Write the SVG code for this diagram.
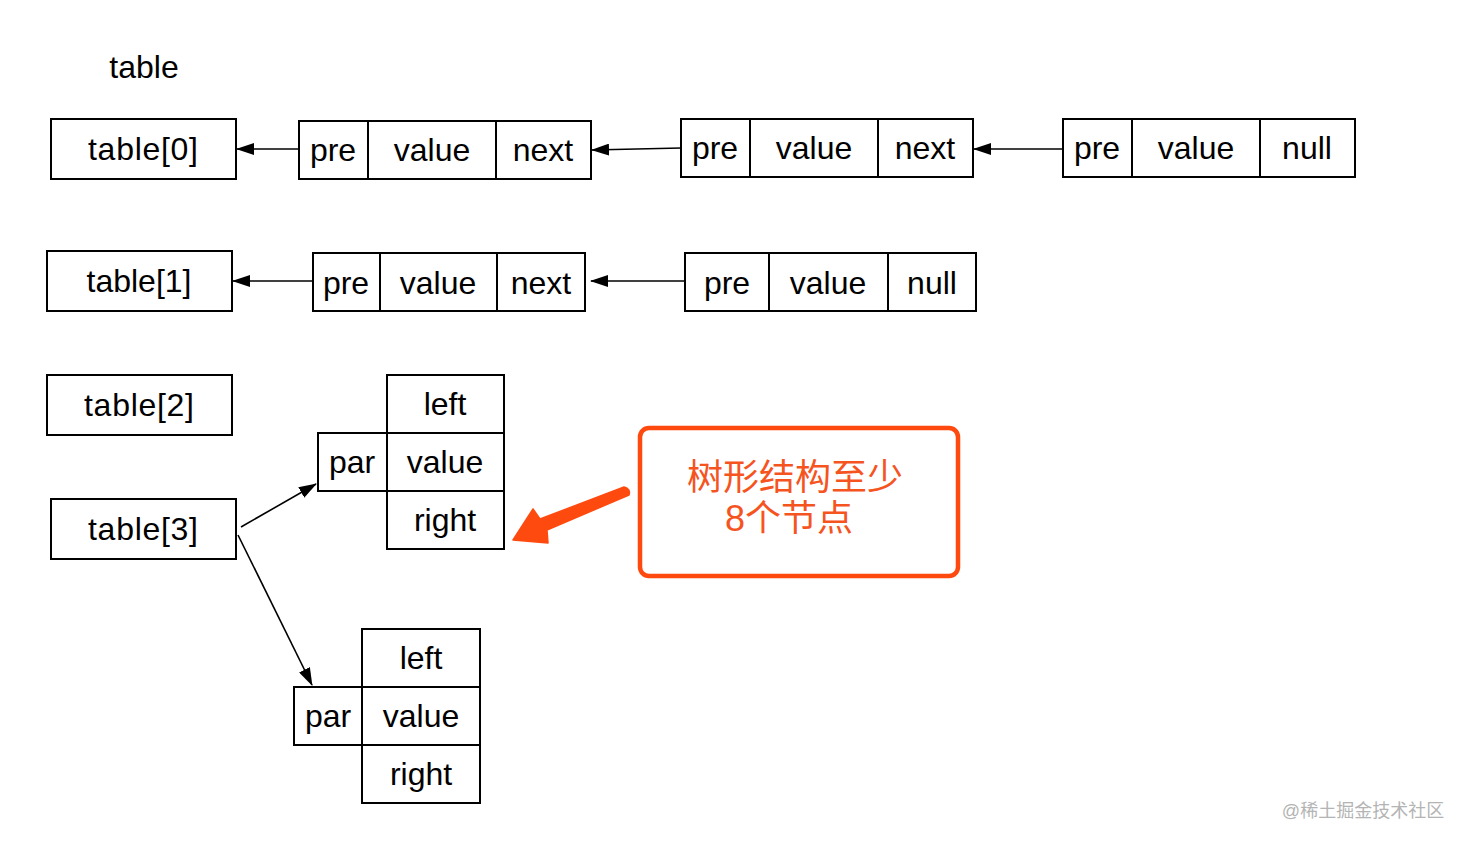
<svg xmlns="http://www.w3.org/2000/svg" width="1466" height="844" viewBox="0 0 1466 844">
<style>
.b{fill:#fff;stroke:#000;stroke-width:2}
.t{font-family:"Liberation Sans",Arial,sans-serif;font-size:32px;fill:#000;text-anchor:middle}
.c{stroke:#000;stroke-width:1.6;fill:none;marker-end:url(#ah)}
.cn{font-family:"Liberation Sans","Noto Sans CJK SC",sans-serif;font-size:36px;fill:#F5541F;text-anchor:middle}
</style>
<defs>
<marker id="ah" viewBox="0 0 18 12" refX="17" refY="6" markerWidth="18" markerHeight="12" markerUnits="userSpaceOnUse" orient="auto">
<path d="M0,0 L18,6 L0,12 z" fill="#000"/>
</marker>
</defs>
<rect width="1466" height="844" fill="#fff"/>
<text class="t" x="144" y="78">table</text>

<g id="table0"><rect class="b" x="51" y="119" width="185" height="60"/><text class="t" x="143" y="160" textLength="110">table[0]</text></g>
<g id="r0n1">
<rect class="b" x="299" y="121" width="69" height="58"/><text class="t" x="333" y="161">pre</text>
<rect class="b" x="368" y="121" width="128" height="58"/><text class="t" x="432" y="161">value</text>
<rect class="b" x="496" y="121" width="95" height="58"/><text class="t" x="543" y="161">next</text>
</g>
<g id="r0n2">
<rect class="b" x="681" y="119" width="69" height="58"/><text class="t" x="715" y="159">pre</text>
<rect class="b" x="750" y="119" width="128" height="58"/><text class="t" x="814" y="159">value</text>
<rect class="b" x="878" y="119" width="95" height="58"/><text class="t" x="925" y="159">next</text>
</g>
<g id="r0n3">
<rect class="b" x="1063" y="119" width="69" height="58"/><text class="t" x="1097" y="159">pre</text>
<rect class="b" x="1132" y="119" width="128" height="58"/><text class="t" x="1196" y="159">value</text>
<rect class="b" x="1260" y="119" width="95" height="58"/><text class="t" x="1307" y="159">null</text>
</g>

<g id="table1"><rect class="b" x="47" y="251" width="185" height="60"/><text class="t" x="139" y="292" textLength="105">table[1]</text></g>
<g id="r1n1">
<rect class="b" x="313" y="253" width="67" height="58"/><text class="t" x="346" y="294">pre</text>
<rect class="b" x="380" y="253" width="117" height="58"/><text class="t" x="438" y="294">value</text>
<rect class="b" x="497" y="253" width="88" height="58"/><text class="t" x="541" y="294">next</text>
</g>
<g id="r1n2">
<rect class="b" x="685" y="253" width="84" height="58"/><text class="t" x="727" y="294">pre</text>
<rect class="b" x="769" y="253" width="119" height="58"/><text class="t" x="828" y="294">value</text>
<rect class="b" x="888" y="253" width="88" height="58"/><text class="t" x="932" y="294">null</text>
</g>

<g id="table2"><rect class="b" x="47" y="375" width="185" height="60"/><text class="t" x="139" y="416" textLength="110">table[2]</text></g>
<g id="table3"><rect class="b" x="51" y="499" width="185" height="60"/><text class="t" x="143" y="540" textLength="110">table[3]</text></g>

<g id="tree1">
<rect class="b" x="387" y="375" width="117" height="58"/><text class="t" x="445" y="415">left</text>
<rect class="b" x="318" y="433" width="69" height="58"/><text class="t" x="352" y="473">par</text>
<rect class="b" x="387" y="433" width="117" height="58"/><text class="t" x="445" y="473">value</text>
<rect class="b" x="387" y="491" width="117" height="58"/><text class="t" x="445" y="531">right</text>
</g>
<g id="tree2">
<rect class="b" x="362" y="629" width="118" height="58"/><text class="t" x="421" y="669">left</text>
<rect class="b" x="294" y="687" width="68" height="58"/><text class="t" x="328" y="727">par</text>
<rect class="b" x="362" y="687" width="118" height="58"/><text class="t" x="421" y="727">value</text>
<rect class="b" x="362" y="745" width="118" height="58"/><text class="t" x="421" y="785">right</text>
</g>

<g id="connectors">
<line class="c" x1="299" y1="149" x2="237" y2="149"/>
<line class="c" x1="681" y1="148" x2="592" y2="150"/>
<line class="c" x1="1063" y1="149" x2="974" y2="149"/>
<line class="c" x1="313" y1="281" x2="233" y2="281"/>
<line class="c" x1="685" y1="281" x2="591" y2="281"/>
<line class="c" x1="241" y1="527" x2="316" y2="484"/>
<line class="c" x1="238" y1="535" x2="312" y2="685"/>
</g>

<g id="callout">
<rect x="640" y="428" width="318" height="148" rx="9" fill="#fff" stroke="#FF4A0F" stroke-width="4.5"/>
<text class="cn"><tspan x="795" y="490">树形结构至少</tspan><tspan x="789" y="531">8个节点</tspan></text>
<path d="M513,540 L533,509 L540,519 L624,487 Q631,489 629,495 L547,530 L548,543 Z" fill="#FF4A0F" stroke="#FF4A0F" stroke-width="1.5" stroke-linejoin="round"/>
</g>

<text x="1363" y="817" font-family="'Liberation Sans','Noto Sans CJK SC',sans-serif" font-size="18" fill="#b4b4b4" text-anchor="middle">@稀土掘金技术社区</text>
</svg>
